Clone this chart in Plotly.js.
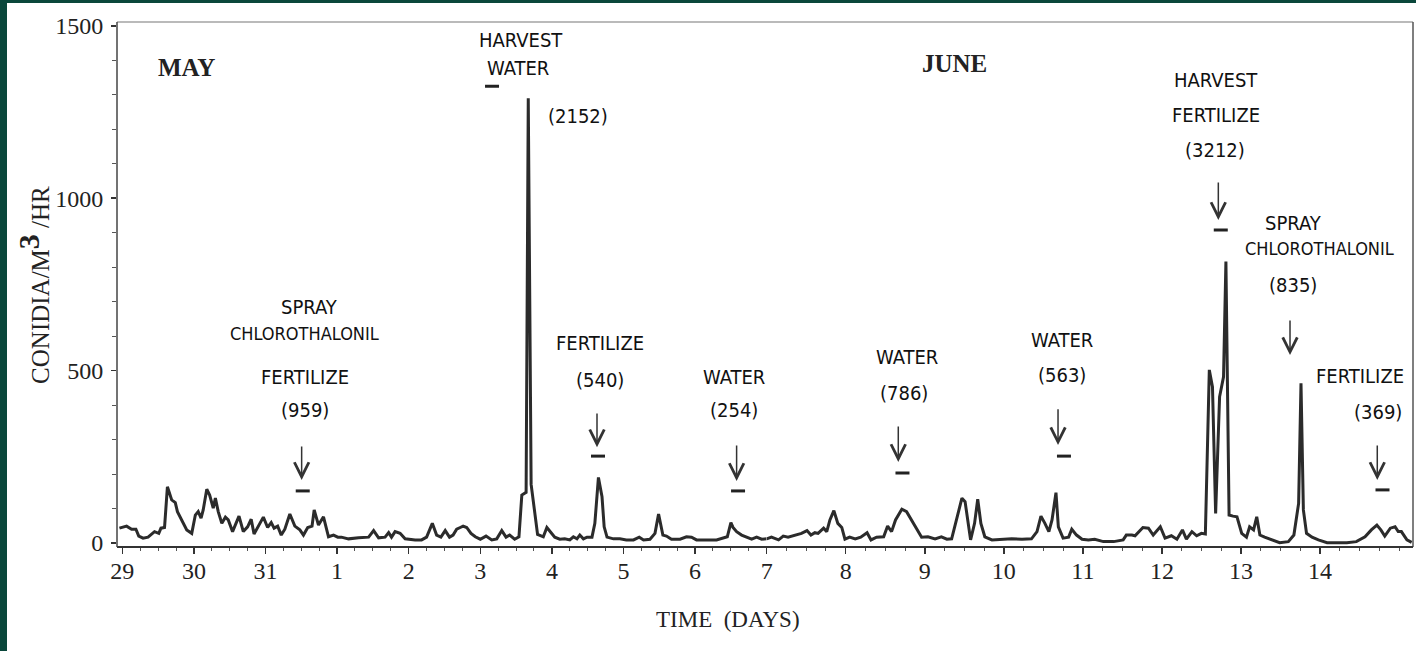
<!DOCTYPE html>
<html>
<head>
<meta charset="utf-8">
<script src="https://cdn.plot.ly/plotly-3.0.1.min.js"></script>
<style>
html,body{margin:0;padding:0;background:#0a473b;width:1416px;height:651px;overflow:hidden}
#chart{position:absolute;left:7px;top:3px;width:1409px;height:648px;background:#fff}
</style>
</head>
<body>
<div id="chart"></div>
<script>
// time in days since 29 May 00:00 ; conidia per m3 per hour
const time = [
-0.04,0.06,0.13,0.19,0.23,0.29,0.36,0.45,0.51,0.54,0.59,0.63,0.69,0.74,0.77,0.83,0.90,0.97,1.02,1.06,
1.10,1.13,1.18,1.22,1.27,1.30,1.34,1.39,1.44,1.48,1.54,1.63,1.69,1.75,1.80,1.84,1.91,1.97,2.03,2.08,
2.12,2.17,2.22,2.27,2.34,2.41,2.48,2.53,2.59,2.65,2.68,2.74,2.81,2.88,2.95,3.01,3.06,3.16,3.30,3.44,
3.51,3.58,3.67,3.72,3.76,3.81,3.88,3.95,4.09,4.18,4.25,4.33,4.39,4.45,4.51,4.57,4.62,4.67,4.72,4.76,
4.81,4.87,4.93,5.00,5.08,5.16,5.23,5.30,5.36,5.41,5.48,5.54,5.58,5.64,5.67,5.71,5.80,5.88,5.93,5.98,
6.04,6.11,6.18,6.25,6.30,6.35,6.39,6.44,6.49,6.56,6.60,6.65,6.70,6.73,6.77,6.86,6.95,7.04,7.14,7.22,
7.28,7.37,7.44,7.49,7.52,7.55,7.60,7.67,7.79,7.88,7.95,8.02,8.16,8.30,8.45,8.50,8.53,8.58,8.65,8.72,
8.79,8.86,8.93,9.00,
9.06,9.15,9.21,9.27,9.36,9.44,9.51,9.56,9.61,9.65,9.72,9.76,9.80,9.85,9.90,9.95,9.99,10.05,10.12,10.19,
10.27,10.32,10.39,10.48,10.53,10.58,10.63,10.71,10.77,10.83,10.90,10.96,11.04,11.13,11.21,11.28,11.34,11.40,11.47,11.51,
11.55,11.58,11.63,11.67,11.71,11.76,11.85,11.97,12.10,12.23,12.35,12.42,12.47,12.52,12.57,12.61,12.66,12.69,12.75,12.82,
12.86,12.92,12.99,13.07,13.15,13.26,13.39,13.51,13.55,13.62,13.66,13.76,13.83,13.89,13.98,14.04,14.12,14.19,14.26,14.31,
14.38,14.44,14.50,14.55,14.60,14.64,14.68,14.73,14.78,14.81,14.85,14.90,14.95,15.01,15.07,15.11,15.16,15.20,15.24,15.30,
15.39,15.49,15.60,15.67,15.73,15.76,15.79,15.83,15.90,15.98,16.09,16.21,16.34,16.46,16.57,16.65,16.72,16.77,16.82,16.89,
16.95,16.99,17.03,17.10,17.16
];
const conidia = [
43,49,40,40,20,14,17,33,28,43,45,163,125,117,91,67,38,28,81,91,
72,96,156,139,101,130,91,57,75,67,33,78,33,47,69,26,52,75,45,59,
43,49,23,40,84,49,38,23,45,49,96,52,76,18,23,17,17,12,15,17,
36,15,17,30,17,33,28,12,9,9,17,57,23,17,36,17,23,40,45,49,
45,28,18,11,20,9,12,36,17,23,11,18,139,147,1290,170,25,18,45,33,
17,11,12,9,18,12,23,12,17,17,57,190,134,47,17,12,12,9,9,17,
9,11,28,84,57,23,20,11,11,18,17,9,9,9,18,59,45,33,23,17,
11,17,11,12,
17,9,20,17,23,28,36,23,30,28,43,33,67,94,57,45,11,17,12,17,
30,9,17,18,49,33,67,98,91,67,40,17,18,12,18,11,12,67,130,120,
52,9,57,127,57,18,9,11,12,11,12,33,78,57,33,67,146,47,14,17,
40,23,11,9,11,4,4,9,23,23,21,45,43,23,47,14,21,11,38,11,
33,21,28,26,502,453,86,424,482,816,81,78,76,28,17,47,38,76,23,17,
9,1,4,23,115,463,96,28,17,9,1,0,1,4,18,38,52,38,20,43,
47,33,33,9,2
];

// axis tick labels (day of month)
const tickDaysLeft = [0,1,2,3,4,5,6,7,8];
const tickTextLeft = ['29','30','31','1','2','3','4','5','6'];
const tickDaysRight = [9,10,11,12,13,14,15,16];
const tickTextRight = ['7','8','9','10','11','12','13','14'];
const yTickVals = [0,500,1000,1500];
const yTickText = ['0','500','1000','1500'];

// event markers (short bars) under the arrows
const eventX = [2.52,5.164,6.644,8.60,10.718,12.761,14.745,16.791];
const eventY = [151,1325,252,151,203,252,908,154];

// arrows: x, tip value, tail value
const arrowX    = [2.505,6.63,8.58,10.665,12.686,14.714,15.621,16.725];
const arrowTip  = [183,278,180,235,284,937,545,183];
const arrowTail = [284,380,287,342,392,1050,650,287];

// text labels
const labelText = ['MAY','JUNE','HARVEST','WATER','(2152)','SPRAY','CHLOROTHALONIL','FERTILIZE','(959)',
 'FERTILIZE','(540)','WATER','(254)','WATER','(786)','WATER','(563)','HARVEST','FERTILIZE','(3212)',
 'SPRAY','CHLOROTHALONIL','(835)','FERTILIZE','(369)'];
const labelX = [0.89,11.37,5.575,5.52,6.364,2.62,2.55,2.55,2.55,
 6.67,6.67,8.54,8.54,10.775,10.74,12.736,12.736,14.685,14.685,14.673,
 15.659,16.0,15.659,16.506,16.728];
const labelY = [1378,1392,1459,1378,1238,684,609,481,386,
 580,473,481,386,539,435,589,487,1343,1241,1140,
 928,853,748,484,380];

const SPLIT = 9;
const SERIF = '"Liberation Serif","Times New Roman",serif';
const NARROW = '"Liberation Sans Narrow","DejaVu Sans Condensed","Arial Narrow",sans-serif';
const INK = '#222222';

const lx=[],ly=[],rx=[],ry=[];
time.forEach((t,i)=>{
  if(t<=SPLIT){lx.push(t);ly.push(conidia[i]);}
  if(t>=SPLIT){rx.push(t);ry.push(conidia[i]);}
});
const ex1=[],ey1=[],ex2=[],ey2=[];
eventX.forEach((x,i)=>{ if(x<=SPLIT){ex1.push(x);ey1.push(eventY[i]);} else {ex2.push(x);ey2.push(eventY[i]);} });

const lineStyle = {color:'#2b2b2b', width:3};
const evMarker = {symbol:'line-ew', size:10, color:INK, line:{color:INK, width:3}};
const data = [
  {x:lx, y:ly, xaxis:'x', yaxis:'y', mode:'lines', line:lineStyle, hoverinfo:'skip'},
  {x:rx, y:ry, xaxis:'x2', yaxis:'y', mode:'lines', line:lineStyle, hoverinfo:'skip'},
  {x:ex1, y:ey1, xaxis:'x', yaxis:'y', mode:'markers', marker:evMarker, hoverinfo:'skip'},
  {x:ex2, y:ey2, xaxis:'x2', yaxis:'y', mode:'markers', marker:evMarker, hoverinfo:'skip'}
];

const xCommon = {
  showgrid:false, zeroline:false, showline:false, anchor:'y',
  tickmode:'array', ticks:'outside', ticklen:6, tickwidth:1.5, tickcolor:'#333',
  tickfont:{family:SERIF, size:24, color:INK}, ticklabelstandoff:-4,
  minor:{tickmode:'linear', tick0:0, dtick:0.25, ticks:'outside', ticklen:3, tickwidth:1, tickcolor:'#555', showgrid:false},
  fixedrange:true
};
const D = 0.5013;

const annotations = [];
labelText.forEach((t,i)=>{
  const big = (t==='MAY'||t==='JUNE');
  annotations.push({
    text: big ? '<b>'+t+'</b>' : t,
    x: labelX[i], y: labelY[i],
    xref: labelX[i] <= SPLIT ? 'x' : 'x2', yref:'y',
    showarrow:false, xanchor:'center', yanchor:'middle',
    font: big ? {family:SERIF, size:25, color:INK}
              : {family:NARROW, size:(t==='CHLOROTHALONIL'?18:20), color:'#111'}
  });
});
arrowX.forEach((x,i)=>{
  const xr = x <= SPLIT ? 'x' : 'x2';
  annotations.push({
    text:'', x:x, y:arrowTip[i], xref:xr, yref:'y',
    ax:x, ay:arrowTail[i], axref:xr, ayref:'y',
    showarrow:true, arrowhead:5, arrowsize:1.9, arrowwidth:1.5, arrowcolor:'#333'
  });
});
annotations.push({
  text:'CONIDIA/M<sup><span style="font-size:30px;font-weight:bold">3</span></sup> /HR',
  xref:'paper', yref:'paper', x:-0.0645, y:0.5,
  textangle:-90, showarrow:false, xanchor:'center', yanchor:'middle',
  font:{family:SERIF, size:25, color:INK}
});
annotations.push({
  text:'TIME \u00a0(DAYS)', xref:'paper', yref:'paper', x:0.4718, y:-0.139,
  showarrow:false, xanchor:'center', yanchor:'middle',
  font:{family:SERIF, size:23, color:INK}
});

const layout = {
  width:1409, height:648,
  margin:{l:110, r:3, t:19, b:104, pad:0},
  paper_bgcolor:'#ffffff', plot_bgcolor:'#ffffff',
  showlegend:false,
  xaxis: Object.assign({}, xCommon, {domain:[0,D], range:[-0.074,9], tickvals:tickDaysLeft, ticktext:tickTextLeft}),
  xaxis2: Object.assign({}, xCommon, {domain:[D,1], range:[9,17.177], tickvals:tickDaysRight, ticktext:tickTextRight}),
  yaxis: {
    range:[-11.6,1511], showgrid:false, zeroline:false, showline:false,
    tickmode:'array', tickvals:yTickVals, ticktext:yTickText,
    ticks:'outside', ticklen:5, tickwidth:1.5, tickcolor:'#333',
    tickfont:{family:SERIF, size:24, color:INK}, ticklabelstandoff:3,
    minor:{tickmode:'linear', tick0:0, dtick:100, ticks:'outside', ticklen:4, tickwidth:1, tickcolor:'#555', showgrid:false},
    fixedrange:true
  },
  shapes:[
    {type:'line', xref:'paper', yref:'paper', x0:0, x1:1, y0:1, y1:1, line:{color:'#777', width:1.2}},
    {type:'line', xref:'paper', yref:'paper', x0:1, x1:1, y0:0, y1:1, line:{color:'#555', width:1.5}},
    {type:'line', xref:'paper', yref:'paper', x0:0, x1:1, y0:0, y1:0, line:{color:'#333', width:2}},
    {type:'line', xref:'paper', yref:'paper', x0:0, x1:0, y0:0, y1:1, line:{color:'#444', width:1.5}}
  ],
  annotations: annotations
};

Plotly.newPlot('chart', data, layout, {staticPlot:true, displayModeBar:false});
</script>
</body>
</html>
